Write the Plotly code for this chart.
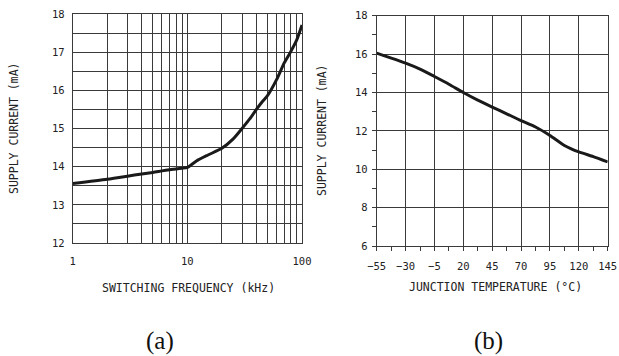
import plotly.graph_objects as go

# Panel (a): supply current vs switching frequency
freq_khz = [1, 2, 3, 4, 5, 6, 7, 8, 9, 10, 12, 15, 20, 25, 30, 35, 40, 45, 50, 60, 70, 80, 90, 100]
current_a = [13.56, 13.67, 13.75, 13.81, 13.85, 13.89, 13.92, 13.94, 13.96, 13.98, 14.15, 14.3, 14.48,
             14.72, 15.0, 15.25, 15.5, 15.7, 15.86, 16.28, 16.72, 17.02, 17.32, 17.71]

# Panel (b): supply current vs junction temperature
temp_c = [-55, -30, -17.5, -5, 7.5, 20, 32.5, 45, 57.5, 70, 82.5, 95, 107.5, 120, 132.5, 145]
current_b = [16.05, 15.53, 15.22, 14.83, 14.43, 14.0, 13.6, 13.24, 12.89, 12.53, 12.2, 11.76,
             11.24, 10.9, 10.66, 10.38]

freq_grid = [1, 2, 3, 4, 5, 6, 7, 8, 9, 10, 20, 30, 40, 50, 60, 70, 80, 90, 100]
freq_labels = ["1", "", "", "", "", "", "", "", "", "10", "", "", "", "", "", "", "", "", "100"]
temp_ticks = [-55, -30, -5, 20, 45, 70, 95, 120, 145]

W, H = 619, 356
MONO = "DejaVu Sans Mono"
INK = "#1a1a1a"
GRID = "#3a3a3a"

fig = go.Figure()
fig.add_trace(go.Scatter(x=freq_khz, y=current_a, mode="lines", line=dict(color=INK, width=3, shape="spline", smoothing=0.6),
                         xaxis="x", yaxis="y", showlegend=False))
fig.add_trace(go.Scatter(x=temp_c, y=current_b, mode="lines", line=dict(color=INK, width=3, shape="spline", smoothing=0.6),
                         xaxis="x2", yaxis="y2", showlegend=False))

tickfont = dict(family=MONO, size=10.5, color="#222")

fig.update_layout(
    width=W, height=H,
    margin=dict(l=0, r=0, t=0, b=0, autoexpand=False),
    paper_bgcolor="white", plot_bgcolor="white",
    xaxis=dict(type="log", range=[0, 2], domain=[72.7 / W, 302 / W], anchor="y", automargin=False,
               tickvals=freq_grid, ticktext=freq_labels, tickfont=tickfont,
               showgrid=True, gridcolor=GRID, gridwidth=1, ticks="", ticklabelstandoff=8,
               showline=True, linecolor=GRID, linewidth=1, mirror=True, zeroline=False),
    yaxis=dict(range=[12, 18], domain=[1 - 243 / H, 1 - 14 / H], anchor="x", automargin=False,
               dtick=1, tick0=12, tickfont=tickfont, ticks="", ticklabelstandoff=5,
               showgrid=True, gridcolor=GRID, gridwidth=1,
               minor=dict(dtick=0.5, tick0=12, showgrid=True, gridcolor=GRID, gridwidth=1),
               showline=True, linecolor=GRID, linewidth=1, mirror=True, zeroline=False),
    xaxis2=dict(range=[-55, 145], domain=[376.7 / W, 607.7 / W], anchor="y2", automargin=False,
                tickvals=temp_ticks, tickfont=tickfont, ticks="outside", ticklen=4, tickcolor=GRID,
                showgrid=True, gridcolor=GRID, gridwidth=1, ticklabelstandoff=6,
                minor=dict(dtick=12.5, tick0=-55, ticks="outside", ticklen=4, tickcolor=GRID, showgrid=False),
                showline=True, linecolor=GRID, linewidth=1, mirror=True, zeroline=False),
    yaxis2=dict(range=[6, 18], domain=[1 - 246 / H, 1 - 15.7 / H], anchor="x2", automargin=False,
                dtick=2, tick0=6, tickfont=tickfont, ticks="outside", ticklen=4, tickcolor=GRID,
                showgrid=True, gridcolor=GRID, gridwidth=1, ticklabelstandoff=2,
                minor=dict(dtick=1, tick0=6, ticks="outside", ticklen=4, tickcolor=GRID, showgrid=False),
                showline=True, linecolor=GRID, linewidth=1, mirror=True, zeroline=False),
)

titlefont = dict(family=MONO, size=11.5, color="#222")
ann = [
    dict(text="SWITCHING FREQUENCY (kHz)", x=188 / W, y=1 - 288 / H, font=titlefont, textangle=0),
    dict(text="SUPPLY CURRENT (mA)", x=14 / W, y=1 - 128 / H, font=titlefont, textangle=-90),
    dict(text="JUNCTION TEMPERATURE (°C)", x=495 / W, y=1 - 287 / H, font=titlefont, textangle=0),
    dict(text="SUPPLY CURRENT (mA)", x=322 / W, y=1 - 130 / H, font=titlefont, textangle=-90),
    dict(text="(a)", x=160 / W, y=1 - 341 / H, font=dict(family="Liberation Serif", size=25, color="#111"), textangle=0),
    dict(text="(b)", x=488 / W, y=1 - 341 / H, font=dict(family="Liberation Serif", size=25, color="#111"), textangle=0),
]
for a in ann:
    fig.add_annotation(xref="paper", yref="paper", xanchor="center", yanchor="middle",
                       showarrow=False, **a)

fig.write_html("out.html", config={"displayModeBar": False},
               post_script="document.body.style.margin='0';document.body.style.overflow='hidden';")
